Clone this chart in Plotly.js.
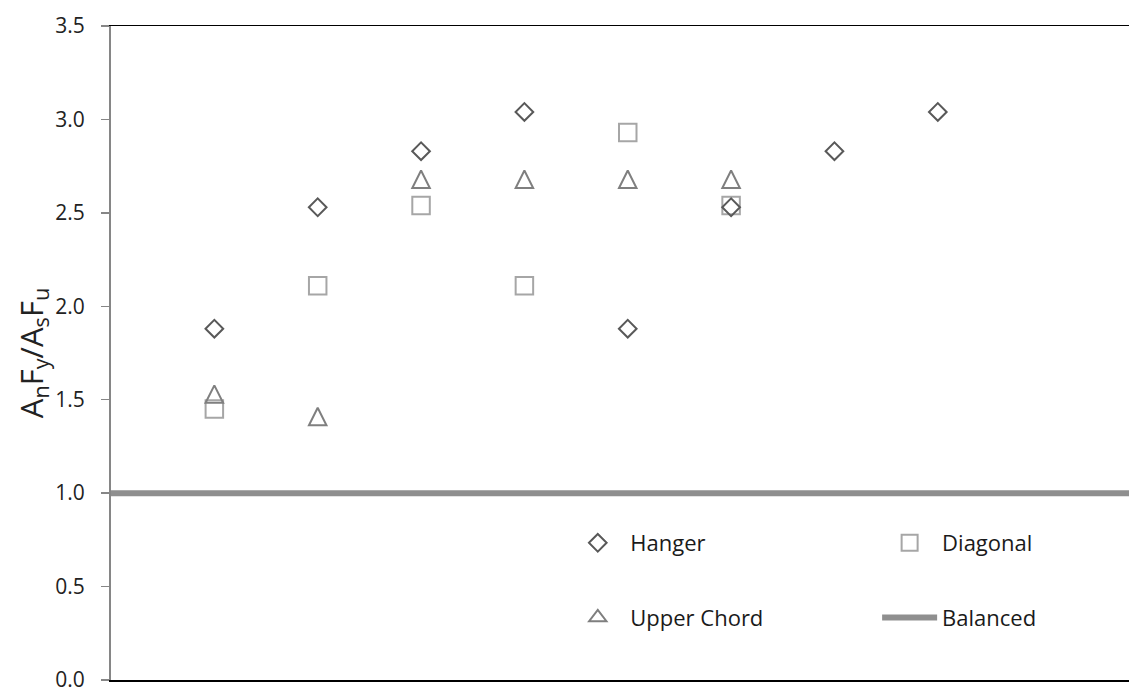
<!DOCTYPE html>
<html>
<head>
<meta charset="utf-8">
<script src="https://cdn.plot.ly/plotly-3.0.1.min.js"></script>
<style>
    html, body { margin: 0; padding: 0; background: #fff; }
    #chart { width: 1130px; height: 691px; }
</style>
</head>
<body>
<div id="chart"></div>
<script>
// Data
const categories = [1, 2, 3, 4, 5, 6, 7, 8];
const hanger     = [1.88, 2.53, 2.83, 3.04, 1.88, 2.53, 2.83, 3.04];
const diagonal   = [1.45, 2.11, 2.54, 2.11, 2.93, 2.54, null, null];
const upperChord = [1.53, 1.41, 2.68, 2.68, 2.68, 2.68, null, null];
const balancedX  = [0, 10];
const balancedY  = [1, 1];
const yTicks     = [0, 0.5, 1, 1.5, 2, 2.5, 3, 3.5];

// Layout constants
const W = 1130, H = 691;
const margin = { l: 110.5, r: 1, t: 26, b: 11 };
const yMax = 3.5;
const xMax = 9.85;
const plotH = H - margin.t - margin.b;
const pxPerUnit = plotH / yMax;

const FONT = 'Open Sans, Liberation Sans, sans-serif';
const TRI_SIZE = 17.5;
// arrow-up marker has its apex on the point; shift its axis so the triangle is centred on it
const triShift = (TRI_SIZE / 2) / pxPerUnit;

const traces = [
    {
        x: categories, y: diagonal, name: 'Diagonal', type: 'scatter', mode: 'markers',
        marker: { symbol: 'square-open', size: 17.5, color: '#A6A6A6', line: { width: 2 } },
        legend: 'legend2', legendgroup: 'd'
    },
    {
        x: categories, y: hanger, name: 'Hanger', type: 'scatter', mode: 'markers',
        marker: { symbol: 'diamond-open', size: 13.6, color: '#595959', line: { width: 2 } },
        legend: 'legend', legendgroup: 'h'
    },
    {
        x: categories, y: upperChord, name: 'Upper Chord', type: 'scatter', mode: 'markers',
        yaxis: 'y2', showlegend: false,
        marker: { symbol: 'arrow-up-open', size: TRI_SIZE, color: '#7F7F7F', line: { width: 2 } }
    },
    {
        // legend entry only for the triangle series
        x: [null], y: [null], name: 'Upper Chord', type: 'scatter', mode: 'markers',
        marker: { symbol: 'triangle-up-open', size: 15, color: '#7F7F7F', line: { width: 2 } },
        legend: 'legend', legendgroup: 'u'
    },
    {
        x: balancedX, y: balancedY, name: 'Balanced', type: 'scatter', mode: 'lines',
        line: { color: '#8F8F8F', width: 6 },
        legend: 'legend2', legendgroup: 'b'
    }
];

const plotW = W - margin.l - margin.r;
const legendBase = {
    xanchor: 'left', yanchor: 'top',
    y: (H - margin.b - 522) / plotH,
    bgcolor: 'rgba(0,0,0,0)', borderwidth: 0,
    font: { family: FONT, size: 22, color: '#1A1A1A' },
    itemwidth: 55, traceorder: 'grouped', tracegroupgap: 43,
    orientation: 'v'
};

const layout = {
    width: W, height: H,
    margin: margin,
    paper_bgcolor: '#fff', plot_bgcolor: '#fff',
    font: { family: FONT, color: '#222' },
    showlegend: true,
    legend: { ...legendBase, x: (565 - margin.l) / plotW },
    legend2: { ...legendBase, x: (877 - margin.l) / plotW },
    xaxis: {
        range: [0, xMax], showgrid: false, zeroline: false,
        showticklabels: false, ticks: '',
        showline: true, linecolor: '#000', linewidth: 1.5, mirror: true
    },
    yaxis: {
        range: [0, yMax], tickvals: yTicks, tickformat: '.1f',
        showgrid: false, zeroline: false,
        showline: true, linecolor: '#868686', linewidth: 2,
        ticks: 'outside', ticklen: 8, tickwidth: 1.5, tickcolor: '#868686',
        ticklabelstandoff: 12, ticklabeloverflow: 'allow',
        tickfont: { family: FONT, size: 21, color: '#222' },
        title: {
            text: 'A<sub>n</sub>F<sub>y</sub>/A<sub>s</sub>F<sub>u</sub>',
            font: { family: FONT, size: 31, color: '#222' },
            standoff: 2
        }
    },
    yaxis2: {
        overlaying: 'y', range: [-triShift, yMax - triShift], visible: false
    }
};

Plotly.newPlot('chart', traces, layout, { displayModeBar: false, staticPlot: true });
</script>
</body>
</html>
